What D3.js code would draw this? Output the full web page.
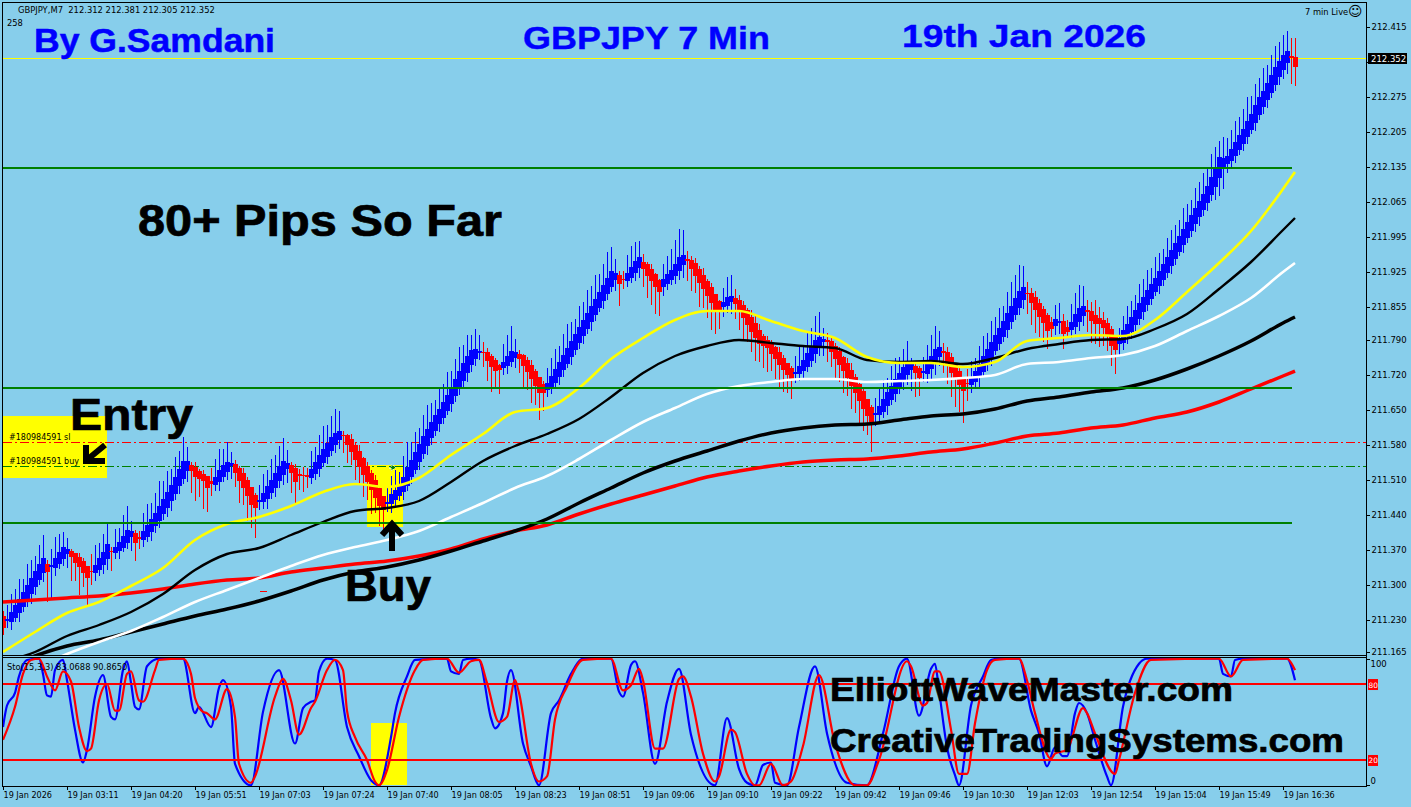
<!DOCTYPE html>
<html><head><meta charset="utf-8">
<script src="https://cdn.jsdelivr.net/npm/d3@7"></script>
<style>
html,body{margin:0;padding:0;background:#87CEEB;overflow:hidden}
svg{display:block}
text{font-family:"DejaVu Sans",sans-serif}
.bold{font-family:"Liberation Sans",Arial,sans-serif;font-weight:bold}
</style></head><body><div id="c"></div>
<script>
const closes=[211.215,211.229,211.243,211.257,211.269,211.283,211.297,211.311,211.325,211.339,211.351,211.327,211.337,211.351,211.363,211.373,211.369,211.357,211.345,211.337,211.325,211.315,211.325,211.337,211.351,211.363,211.379,211.363,211.373,211.383,211.395,211.407,211.405,211.385,211.389,211.405,211.417,211.429,211.441,211.455,211.469,211.483,211.497,211.513,211.529,211.545,211.545,211.529,211.517,211.513,211.509,211.495,211.499,211.513,211.527,211.537,211.543,211.541,211.525,211.509,211.495,211.479,211.461,211.455,211.467,211.481,211.495,211.507,211.521,211.535,211.545,211.541,211.525,211.507,211.515,211.517,211.513,211.529,211.543,211.557,211.569,211.581,211.593,211.601,211.605,211.595,211.581,211.567,211.551,211.537,211.521,211.507,211.491,211.475,211.459,211.451,211.463,211.479,211.487,211.495,211.513,211.533,211.547,211.563,211.579,211.595,211.609,211.623,211.637,211.649,211.663,211.677,211.693,211.709,211.725,211.741,211.755,211.767,211.769,211.765,211.761,211.749,211.737,211.729,211.731,211.743,211.755,211.765,211.763,211.753,211.739,211.727,211.713,211.699,211.685,211.685,211.701,211.715,211.729,211.743,211.757,211.771,211.785,211.799,211.813,211.827,211.841,211.855,211.869,211.883,211.897,211.911,211.925,211.921,211.903,211.909,211.921,211.933,211.945,211.953,211.933,211.919,211.909,211.897,211.887,211.909,211.919,211.927,211.939,211.953,211.957,211.945,211.933,211.919,211.905,211.893,211.879,211.865,211.851,211.849,211.863,211.873,211.875,211.863,211.849,211.835,211.821,211.807,211.795,211.783,211.779,211.775,211.763,211.753,211.741,211.731,211.721,211.713,211.723,211.735,211.747,211.761,211.775,211.787,211.793,211.789,211.783,211.767,211.753,211.741,211.729,211.715,211.699,211.685,211.669,211.653,211.639,211.627,211.641,211.655,211.669,211.683,211.695,211.709,211.721,211.733,211.743,211.739,211.725,211.715,211.725,211.741,211.755,211.769,211.773,211.761,211.743,211.725,211.713,211.701,211.689,211.699,211.713,211.725,211.739,211.755,211.769,211.783,211.797,211.811,211.825,211.841,211.855,211.871,211.885,211.893,211.879,211.865,211.851,211.837,211.825,211.809,211.813,211.829,211.825,211.803,211.807,211.823,211.839,211.851,211.855,211.843,211.829,211.823,211.823,211.815,211.799,211.779,211.771,211.789,211.807,211.819,211.833,211.847,211.861,211.873,211.887,211.899,211.911,211.925,211.939,211.953,211.967,211.981,211.995,212.009,212.023,212.037,212.051,212.065,212.079,212.095,212.113,212.133,212.153,212.151,212.155,212.169,212.183,212.197,212.209,212.225,212.239,212.257,212.273,212.285,212.301,212.317,212.333,212.345,212.357,212.365,212.351,212.337];
// wick lengths above and below the candle body (read as pixel-scaled units, 800 units = 1 yen)
const wickUp=[10,24,30,28,34,22,36,30,26,32,38,8,28,36,30,26,20,4,0,8,6,2,28,34,26,30,36,8,30,24,36,40,18,6,12,30,36,28,34,42,30,36,28,34,30,40,24,6,10,4,8,2,22,30,36,28,34,20,8,4,10,6,2,4,26,32,28,36,30,34,38,22,6,8,10,14,12,30,26,34,38,30,36,40,34,8,4,10,6,12,4,8,6,10,4,2,26,30,34,24,36,42,30,34,28,36,40,32,26,36,30,38,28,34,40,30,36,26,34,28,18,8,4,6,2,30,36,42,22,8,4,6,10,4,2,6,26,30,34,28,36,40,32,26,36,30,38,34,40,30,36,44,40,24,8,14,30,36,32,28,14,6,10,4,2,26,30,36,40,46,42,14,8,10,6,12,4,8,2,4,24,34,36,16,10,8,6,12,14,10,4,8,6,4,10,6,2,4,28,32,26,36,30,40,42,20,14,10,6,8,4,10,12,6,4,8,2,4,26,30,32,24,34,36,28,30,36,12,8,6,24,30,36,38,28,14,10,8,4,6,2,24,28,22,30,34,28,36,30,34,26,36,40,38,44,36,18,10,12,8,6,4,10,24,30,14,12,30,36,38,34,18,16,26,20,14,10,6,4,20,24,30,28,26,32,30,34,28,36,30,26,32,34,30,28,36,30,26,34,32,36,30,38,34,28,36,30,32,36,30,34,40,30,36,32,38,30,34,36,32,34,34,30,32];
const wickDown=[12,10,14,8,16,10,12,18,14,10,16,50,48,14,10,12,24,40,30,46,24,44,20,14,12,16,18,28,10,14,8,12,24,30,14,12,10,16,12,14,10,16,18,12,14,10,20,36,40,30,46,40,18,12,16,10,14,20,24,36,28,42,38,50,14,12,18,10,16,12,18,24,34,36,20,26,16,12,10,14,8,12,10,14,16,26,30,22,34,28,36,30,40,26,34,40,14,16,12,10,14,10,12,8,14,10,16,12,10,14,12,8,14,10,12,14,16,12,14,10,20,34,42,28,40,12,14,10,18,24,36,30,40,32,44,30,14,12,10,14,12,8,14,10,12,14,10,16,12,8,14,12,10,20,36,14,12,10,14,18,30,36,40,44,40,16,12,10,14,16,22,30,36,28,40,32,36,44,40,30,18,14,20,26,32,36,28,34,38,30,36,40,28,34,40,36,30,34,16,12,14,10,12,16,14,22,30,26,34,28,36,30,38,34,40,36,32,50,18,14,12,16,10,14,12,16,18,36,40,30,14,16,18,20,16,30,34,40,46,44,52,26,14,12,16,10,12,14,8,12,10,14,12,10,14,16,30,36,38,34,32,30,14,16,18,26,10,14,12,16,18,30,36,34,38,30,26,34,40,20,14,12,14,10,12,14,10,12,8,14,12,10,14,12,8,14,10,12,14,16,12,14,10,22,30,34,16,14,12,10,14,12,8,14,10,12,14,10,12,14,16,18,40,32];

const maBars=[0,8,16,24,32,40,48,56,64,72,80,88,96,104,112,120,128,136,144,152,160,168,176,184,192,200,208,216,224,232,240,248,256,264,272,280,288,296,304,312,320,323];
const maYellow=[211.165,211.205,211.243,211.265,211.297,211.333,211.389,211.421,211.435,211.457,211.485,211.501,211.495,211.513,211.559,211.601,211.645,211.653,211.693,211.751,211.793,211.829,211.847,211.847,211.827,211.807,211.793,211.755,211.743,211.743,211.735,211.745,211.787,211.793,211.799,211.797,211.829,211.885,211.943,212.007,212.091,212.125];
const maBlackThin=[211.145,211.165,211.197,211.219,211.245,211.281,211.329,211.361,211.373,211.399,211.425,211.447,211.453,211.467,211.505,211.547,211.577,211.601,211.631,211.675,211.723,211.757,211.777,211.789,211.783,211.777,211.773,211.749,211.745,211.747,211.741,211.753,211.771,211.781,211.789,211.791,211.811,211.841,211.891,211.945,212.009,212.033];
const maWhite=[211.109,211.133,211.161,211.185,211.207,211.235,211.265,211.289,211.313,211.337,211.359,211.375,211.389,211.407,211.435,211.463,211.493,211.517,211.551,211.589,211.625,211.653,211.681,211.697,211.705,211.711,211.711,211.705,211.707,211.709,211.713,211.719,211.741,211.745,211.753,211.759,211.777,211.807,211.837,211.873,211.925,211.943];
const maBlackThick=[211.129,211.157,211.177,211.189,211.205,211.221,211.237,211.251,211.267,211.287,211.309,211.325,211.335,211.349,211.367,211.387,211.407,211.431,211.463,211.493,211.523,211.547,211.567,211.587,211.603,211.613,211.619,211.621,211.629,211.637,211.641,211.651,211.667,211.675,211.685,211.693,211.709,211.731,211.757,211.787,211.823,211.835];
const maRed=[211.265,211.269,211.273,211.277,211.283,211.291,211.301,211.309,211.313,211.325,211.333,211.341,211.347,211.357,211.371,211.391,211.407,211.419,211.441,211.461,211.479,211.497,211.515,211.527,211.537,211.545,211.549,211.551,211.557,211.565,211.571,211.583,211.597,211.603,211.613,211.619,211.633,211.645,211.665,211.691,211.717,211.727];

const stochMainBars=[0,1,3,4,6,9,10,11,12,13,15,16,18,20,21,23,25,27,28,30,31,32,33,34,36,39,45,48,49,52,54,55,57,58,62,65,69,73,75,77,78,79,81,83,86,89,92,94,97,98,101,103,111,112,114,115,117,119,122,123,125,126,127,130,132,134,137,139,142,145,152,154,155,157,158,160,163,166,169,172,178,181,184,186,188,190,192,193,196,199,203,206,211,216,220,224,226,229,232,233,234,236,238,239,242,245,247,249,254,257,259,261,263,265,266,268,269,271,273,276,277,280,284,286,304,305,307,308,310,321,323];
const stochMain=[46,63,73,86,99,100,88,71,70,91,99,83,44,18,28,70,87,54,52,91,98,81,62,60,94,100,100,57,62,46,77,83,62,17,0,58,91,33,61,66,67,90,100,99,46,23,4,0,38,57,86,99,100,90,88,99,100,99,53,45,57,82,91,33,15,0,57,67,88,100,100,74,70,95,98,73,17,66,92,40,0,53,13,2,0,16,18,2,0,46,94,41,2,0,41,94,100,55,92,96,75,30,8,0,63,86,99,100,100,59,41,15,30,23,23,57,65,57,36,7,0,62,96,100,100,88,86,99,100,100,83];
const stochSignalBars=[0,3,5,7,9,11,13,15,17,19,21,22,24,26,28,29,31,32,34,35,38,39,45,47,48,50,51,53,56,58,59,62,63,68,70,72,74,77,78,81,83,85,86,88,91,93,94,96,99,103,105,111,114,117,119,121,124,126,128,129,132,134,136,138,141,145,152,155,157,159,160,163,165,169,170,172,175,178,179,182,183,186,188,189,192,195,197,200,204,208,213,216,219,226,227,230,231,233,234,237,239,241,243,246,248,254,256,258,262,263,266,270,271,273,278,279,283,287,304,307,310,321,323];
const stochSignal=[36,62,88,99,100,86,75,90,82,46,27,29,67,80,59,59,88,90,67,66,91,99,100,88,69,58,57,52,76,54,17,2,7,70,84,67,40,61,66,91,99,91,59,38,20,3,0,12,54,91,99,100,89,98,99,81,50,54,83,73,17,3,7,52,78,99,100,75,79,92,83,29,29,84,86,70,25,3,7,44,42,9,0,0,17,0,3,31,87,33,0,0,20,98,94,63,65,90,90,44,9,9,49,91,99,100,83,57,21,25,28,61,57,41,9,20,73,99,100,86,99,100,91];

const priceTicks=[212.415,212.345,212.275,212.205,212.135,212.065,211.995,211.925,211.855,211.790,211.720,211.650,211.580,211.510,211.440,211.370,211.300,211.230,211.165];
const timeLabels=["19 Jan 2026","19 Jan 03:11","19 Jan 04:20","19 Jan 05:51","19 Jan 07:03","19 Jan 07:24","19 Jan 07:40","19 Jan 08:05","19 Jan 08:23","19 Jan 08:51","19 Jan 09:06","19 Jan 09:10","19 Jan 09:22","19 Jan 09:42","19 Jan 09:46","19 Jan 10:30","19 Jan 12:03","19 Jan 12:54","19 Jan 15:04","19 Jan 15:49","19 Jan 16:36"];
const greenLevels=[212.133,211.693,211.423];
const bidPrice=212.352, slPrice=211.585, buyPrice=211.537;

const W=1411,H=807,BLUE="#0000ff",RED="#ff0000",GREEN="#008000",YEL="#ffff00";
const svg=d3.select("#c").append("svg").attr("width",W).attr("height",H);
svg.append("rect").attr("width",W).attr("height",H).attr("fill","#87CEEB");
const defs=svg.append("defs");
defs.append("clipPath").attr("id","pp").append("rect").attr("x",3).attr("y",3).attr("width",1363).attr("height",652);
defs.append("clipPath").attr("id","sp").append("rect").attr("x",3).attr("y",658).attr("width",1363).attr("height",128);

const x=d3.scaleLinear().domain([0,323]).range([3,1295]);
const y=d3.scaleLinear().domain([211.165,212.415]).range([652,27]);
const s=d3.scaleLinear().domain([0,100]).range([785.3,658.7]);

// Heiken Ashi bars: open is the mean of the previous bar's open and close
let prevO=closes[0]+0.02;
const bars=closes.map((c,i)=>{
  const o=i?(prevO+closes[i-1])/2:prevO; prevO=o;
  const top=Math.max(o,c),bot=Math.min(o,c);
  return {i,o,c,h:top+(wickUp[i]||0)/800,l:bot-(wickDown[i]||0)/800,col:c>=o?BLUE:RED};
});

// highlight boxes behind the price bars
const under=svg.append("g");
[[3,416,104,62],[367,465,36,62],[371,723,36,62]].forEach(r=>under.append("rect").attr("x",r[0]).attr("y",r[1]).attr("width",r[2]).attr("height",r[3]).attr("fill",YEL));

const price=svg.append("g").attr("clip-path","url(#pp)").attr("shape-rendering","crispEdges");
price.append("line").attr("x1",3).attr("x2",1366).attr("y1",y(slPrice)).attr("y2",y(slPrice)).attr("stroke",RED).attr("stroke-dasharray","9,3,2,3");
price.append("line").attr("x1",3).attr("x2",1366).attr("y1",y(buyPrice)).attr("y2",y(buyPrice)).attr("stroke",GREEN).attr("stroke-dasharray","9,3,2,3");
price.append("line").attr("x1",3).attr("x2",1366).attr("y1",y(bidPrice)).attr("y2",y(bidPrice)).attr("stroke",YEL).attr("stroke-width",1.5);

const cg=price.append("g");
cg.selectAll("line").data(bars).join("line").attr("x1",d=>x(d.i)+.5).attr("x2",d=>x(d.i)+.5).attr("y1",d=>y(d.h)).attr("y2",d=>y(d.l)).attr("stroke",d=>d.col);
cg.selectAll("rect").data(bars).join("rect").attr("x",d=>x(d.i)-2).attr("width",5)
  .attr("y",d=>y(Math.max(d.o,d.c))-1).attr("height",d=>Math.max(1.5,Math.abs(y(d.o)-y(d.c))+(Math.abs(y(d.o)-y(d.c))>3?2:0))).attr("fill",d=>d.col);

const maLine=d3.line().curve(d3.curveMonotoneX).x((d,i)=>x(maBars[i])).y(d=>y(d));
[[maRed,RED,3.5],[maBlackThick,"#000",3.5],[maWhite,"#fff",2.6],[maBlackThin,"#000",2.4],[maYellow,YEL,2.6]].forEach(m=>{
  price.append("path").datum(m[0]).attr("d",maLine).attr("fill","none").attr("stroke",m[1]).attr("stroke-width",m[2]).attr("shape-rendering","auto");
});
greenLevels.forEach(p=>price.append("line").attr("x1",3).attr("x2",1292).attr("y1",y(p)).attr("y2",y(p)).attr("stroke",GREEN).attr("stroke-width",2));
// stray order marks
price.append("line").attr("x1",260).attr("x2",267).attr("y1",591).attr("y2",591).attr("stroke",RED);
price.append("path").attr("d","M389 467h2v-3l5 3.5-5 3.5v-3h-2z").attr("fill",GREEN).attr("stroke","#fff").attr("stroke-width",.5);

// stochastic panel
const sub=svg.append("g").attr("clip-path","url(#sp)");
sub.append("path").datum(stochMain).attr("d",d3.line().curve(d3.curveMonotoneX).x((d,i)=>x(stochMainBars[i])).y(d=>s(d))).attr("fill","none").attr("stroke",BLUE).attr("stroke-width",2.2);
[80,20].forEach(v=>sub.append("line").attr("x1",3).attr("x2",1366).attr("y1",s(v)).attr("y2",s(v)).attr("stroke",RED).attr("stroke-width",2).attr("shape-rendering","crispEdges"));
sub.append("path").datum(stochSignal).attr("d",d3.line().curve(d3.curveMonotoneX).x((d,i)=>x(stochSignalBars[i])).y(d=>s(d))).attr("fill","none").attr("stroke",RED).attr("stroke-width",2.2);

// frame
const fr=svg.append("g").attr("stroke","#000").attr("shape-rendering","crispEdges").attr("fill","none");
fr.append("rect").attr("x",2.5).attr("y",2.5).attr("width",1364).attr("height",783.5);
fr.append("line").attr("x1",2).attr("x2",1366).attr("y1",655.5).attr("y2",655.5);
fr.append("line").attr("x1",2).attr("x2",1366).attr("y1",657.5).attr("y2",657.5);

// axes
const styleAxis=g=>{g.select(".domain").remove();g.selectAll("line").attr("stroke","#000").attr("shape-rendering","crispEdges");g.selectAll("text").attr("fill","#000").attr("font-family","DejaVu Sans");};
// the 212.345 label sits under the current-price box, so its tick carries no text
svg.append("g").attr("transform","translate(1366.5,0)").call(d3.axisRight(y).tickValues(priceTicks).tickFormat(d=>d===212.345?"":d3.format(".3f")(d)).tickSize(3).tickPadding(2)).call(styleAxis).attr("font-size",8.5);
const tickBars=timeLabels.map((_,i)=>i*16);
const xa=svg.append("g").attr("transform","translate(0,786.5)").call(d3.axisBottom(x).tickValues(tickBars).tickFormat((d,i)=>timeLabels[i]).tickSize(3).tickPadding(3)).call(styleAxis).attr("font-size",8.1);
xa.selectAll("text").attr("text-anchor","start");
const sa=svg.append("g").attr("transform","translate(1366.5,0)").call(d3.axisRight(s).tickValues([100,0]).tickFormat(d3.format("d")).tickSize(3).tickPadding(1)).call(styleAxis).attr("font-size",8.5);
sa.selectAll("text").attr("dy",(d)=>d===100?"0.9em":"-0.2em");

// current price box and indicator level boxes
svg.append("rect").attr("x",1368).attr("y",y(bidPrice)-5.5).attr("width",39).attr("height",11).attr("fill","#000");
svg.append("text").attr("x",1371).attr("y",y(bidPrice)+3.5).attr("fill","#fff").attr("font-size",8.5).text(d3.format(".3f")(bidPrice));
[80,20].forEach(v=>{
  svg.append("rect").attr("x",1368).attr("y",s(v)-5).attr("width",10).attr("height",11).attr("fill",RED);
  svg.append("text").attr("x",1368.6).attr("y",s(v)+3.5).attr("fill","#fff").attr("font-size",7.4).text(v);
});

// small chart texts
const small=(t,px,py,fs,fill)=>svg.append("text").attr("x",px).attr("y",py).attr("font-size",fs||8.5).attr("fill",fill||"#000").style("white-space","pre").text(t);
small("GBPJPY,M7  212.312 212.381 212.305 212.352",18,13,8.4);
small("258",7,26,8.3);
small("7 min Live",1305,15,8.3);
small("\u263A",1348,16,14);
small("Sto(15,3,3) 83.0688 90.8650",7,670,8.3);
small("#180984591 sl",9,440,8);
small("#180984591 buy",9,464,8);

// large annotations
const big=(t,px,py,fs,len,fill,sw)=>svg.append("text").attr("class","bold").attr("x",px).attr("y",py).attr("font-size",fs).attr("textLength",len).attr("lengthAdjust","spacingAndGlyphs").attr("fill",fill||"#000").attr("stroke",fill||"#000").attr("stroke-width",sw||.7).text(t);
big("By G.Samdani",34,52,33,241,BLUE,.5);
big("GBPJPY 7 Min",523,49,32,247,BLUE,.4);
big("19th Jan 2026",902,47,32,244,BLUE,.4);
big("80+ Pips So Far",138,236,44,364);
big("Entry",70,430,44,123);
big("Buy",345,601,44,86);
big("ElliottWaveMaster.com",830,701,33,403);
big("CreativeTradingSystems.com",830,752,33,514);

// arrows
svg.append("path").attr("d","M105 445L88 459M86 445L86 461L105 461").attr("fill","none").attr("stroke","#000").attr("stroke-width",6);
svg.append("path").attr("d","M392 551V524M382 535L392 524L402 535").attr("fill","none").attr("stroke","#000").attr("stroke-width",6);
</script></body></html>
